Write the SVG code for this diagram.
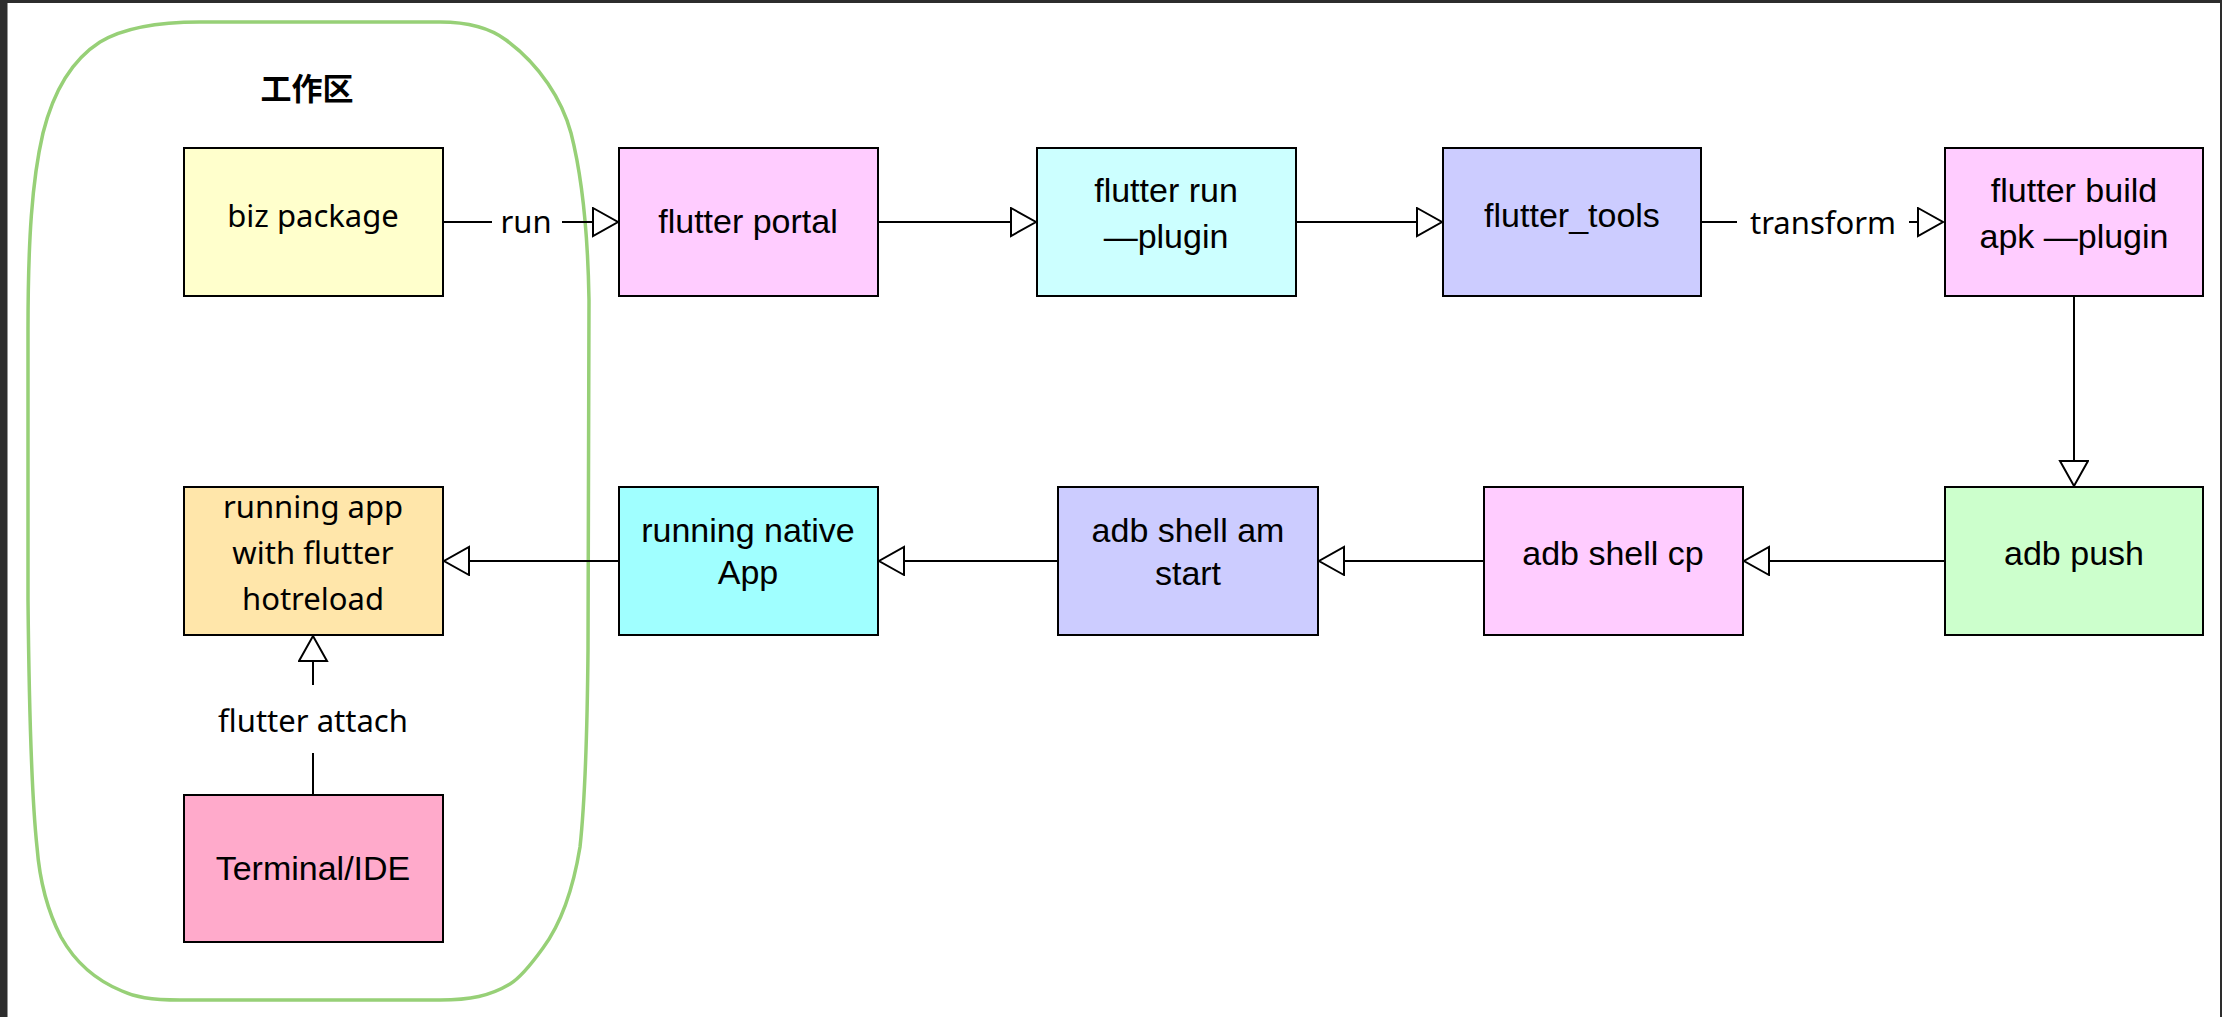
<svg xmlns="http://www.w3.org/2000/svg" width="2222" height="1017" viewBox="0 0 2222 1017">
<defs>
<style>
.box{stroke:#000;stroke-width:2}
.n{font-family:"Liberation Sans",Arial,sans-serif;font-size:34px;fill:#000;text-anchor:middle}
.w{font-family:"Noto Sans","Liberation Sans",sans-serif;font-size:31px;fill:#000;text-anchor:middle}
.e{fill:none;stroke:#000;stroke-width:2}
</style>
<marker id="tri" markerUnits="userSpaceOnUse" markerWidth="30" markerHeight="34" refX="26" refY="15" orient="auto" viewBox="0 0 30 34">
<path d="M1,1 L26,15 L1,29 Z" fill="#fff" stroke="#000" stroke-width="2"/>
</marker>
</defs>
<rect x="0" y="0" width="2222" height="1017" fill="#fff"/>
<rect x="0" y="0" width="2222" height="3" fill="#2d2d2d"/>
<rect x="0" y="0" width="7.5" height="1017" fill="#2d2d2d"/>
<rect x="2220" y="0" width="2" height="1017" fill="#2d2d2d"/>

<g id="workspace">
<path d="M200,22 L440,22 C470,22 490,28 506,40 C540,65 562,100 571,133 C583,180 588,240 589,300 L588,650 C587,760 584,810 580,847 C573,890 560,925 543,948 C530,966 520,978 510,984 C490,996 470,1000 440,1000 L180,1000 C150,1000 135,997 122,991 C95,980 75,962 61,937 C48,912 40,885 37,847 C32,800 29,700 28,600 L28,330 C28,240 32,180 43,133 C55,85 75,58 100,42 C125,27 160,22 200,22 Z" fill="none" stroke="#97D077" stroke-width="3.5"/>
<text x="307" y="100" font-family="'Noto Sans CJK SC',sans-serif" font-weight="bold" font-size="31" text-anchor="middle">工作区</text>
</g>

<g id="biz-package">
<rect class="box" x="184" y="148" width="259" height="148" fill="#FFFFCC"/>
<text class="w" x="313" y="227" font-size="32.5">biz package</text>
</g>
<g id="flutter-portal">
<rect class="box" x="619" y="148" width="259" height="148" fill="#FFCCFF"/>
<text class="n" x="748" y="233" font-size="29">flutter portal</text>
</g>
<g id="flutter-run-plugin">
<rect class="box" x="1037" y="148" width="259" height="148" fill="#CCFFFF"/>
<text class="n" x="1166" y="202" font-size="37">flutter run</text>
<text class="n" x="1166" y="248" font-size="35">—plugin</text>
</g>
<g id="flutter-tools">
<rect class="box" x="1443" y="148" width="258" height="148" fill="#CCCCFF"/>
<text class="n" x="1572" y="227" font-size="35">flutter_tools</text>
</g>
<g id="flutter-build-apk-plugin">
<rect class="box" x="1945" y="148" width="258" height="148" fill="#FFCCFF"/>
<text class="n" x="2074" y="202" font-size="35">flutter build</text>
<text class="n" x="2074" y="248" font-size="35">apk —plugin</text>
</g>
<g id="adb-push">
<rect class="box" x="1945" y="487" width="258" height="148" fill="#CCFFCC"/>
<text class="n" x="2074" y="565">adb push</text>
</g>
<g id="adb-shell-cp">
<rect class="box" x="1484" y="487" width="259" height="148" fill="#FFCCFF"/>
<text class="n" x="1613" y="565">adb shell cp</text>
</g>
<g id="adb-shell-am-start">
<rect class="box" x="1058" y="487" width="260" height="148" fill="#CCCCFF"/>
<text class="n" x="1188" y="542" font-size="31">adb shell am</text>
<text class="n" x="1188" y="585">start</text>
</g>
<g id="running-native-app">
<rect class="box" x="619" y="487" width="259" height="148" fill="#A0FFFF"/>
<text class="n" x="748" y="542">running native</text>
<text class="n" x="748" y="584">App</text>
</g>
<g id="running-app">
<rect class="box" x="184" y="487" width="259" height="148" fill="#FFE6AA"/>
<text class="w" x="313" y="518" font-size="32.5">running app</text>
<text class="w" x="313" y="564" font-size="32.5">with flutter</text>
<text class="w" x="313" y="610" font-size="32.5">hotreload</text>
</g>
<g id="terminal-ide">
<rect class="box" x="184" y="795" width="259" height="147" fill="#FFAACB"/>
<text class="n" x="313" y="880" font-size="29">Terminal/IDE</text>
</g>

<g id="connectors">
<path class="e" d="M443,222 L492,222"/>
<path class="e" d="M562,222 L618,222" marker-end="url(#tri)"/>
<text class="w" x="526" y="233">run</text>
<path class="e" d="M878,222 L1036,222" marker-end="url(#tri)"/>
<path class="e" d="M1296,222 L1442,222" marker-end="url(#tri)"/>
<path class="e" d="M1701,222 L1737,222"/>
<path class="e" d="M1909,222 L1943,222" marker-end="url(#tri)"/>
<text class="w" x="1823" y="234">transform</text>
<path class="e" d="M2074,296 L2074,486" marker-end="url(#tri)"/>
<path class="e" d="M1945,561 L1744,561" marker-end="url(#tri)"/>
<path class="e" d="M1484,561 L1319,561" marker-end="url(#tri)"/>
<path class="e" d="M1058,561 L879,561" marker-end="url(#tri)"/>
<path class="e" d="M619,561 L444,561" marker-end="url(#tri)"/>
<path class="e" d="M313,795 L313,753"/>
<path class="e" d="M313,685 L313,636" marker-end="url(#tri)"/>
<text class="w" x="313" y="732" font-size="32">flutter attach</text>
</g>
</svg>
